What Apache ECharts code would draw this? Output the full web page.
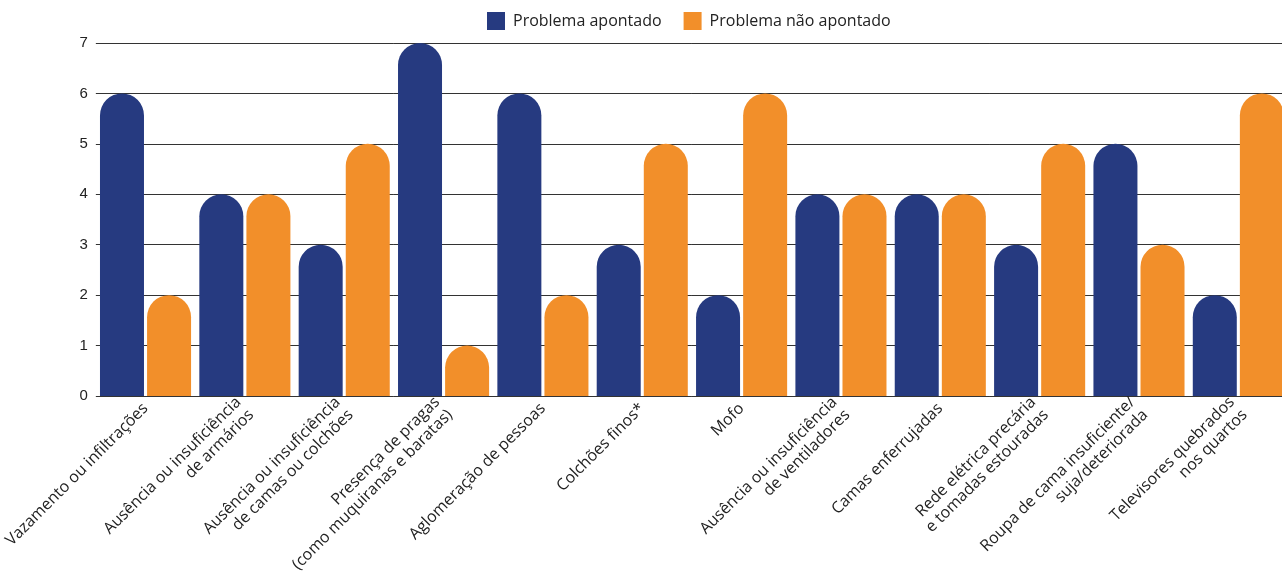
<!DOCTYPE html>
<html>
<head>
<meta charset="utf-8">
<script src="https://cdn.jsdelivr.net/npm/echarts@6/dist/echarts.min.js"></script>
<style>
html,body{margin:0;padding:0;background:#fff;overflow:hidden;}
#chart{width:1292px;height:579px;}
</style>
</head>
<body>
<div id="chart"></div>
<script>
const categories = [
  "Vazamento ou infiltrações",
  "Ausência ou insuficiência\nde armários",
  "Ausência ou insuficiência\nde camas ou colchões",
  "Presença de pragas\n(como muquiranas e baratas)",
  "Aglomeração de pessoas",
  "Colchões finos*",
  "Mofo",
  "Ausência ou insuficiência\nde ventiladores",
  "Camas enferrujadas",
  "Rede elétrica precária\ne tomadas estouradas",
  "Roupa de cama insuficiente/\nsuja/deteriorada",
  "Televisores quebrados\nnos quartos"
];
const apontado = [6, 4, 3, 7, 6, 3, 2, 4, 4, 3, 5, 2];
const naoApontado = [2, 4, 5, 1, 2, 5, 6, 4, 4, 5, 3, 6];
const yTicks = [0, 1, 2, 3, 4, 5, 6, 7];

const chart = echarts.init(document.getElementById('chart'));
const font = '"Open Sans", sans-serif';
chart.setOption({
  animation: false,
  legend: {
    top: 7,
    left: 482,
    itemWidth: 18,
    itemHeight: 18,
    itemGap: 22,
    icon: 'rect',
    textStyle: {fontFamily: font, fontSize: 16, color: '#222', padding: [0, 0, 0, 3]},
    data: ['Problema apontado', 'Problema não apontado']
  },
  grid: {left: 95, width: 1193, top: 43, bottom: 183},
  xAxis: {
    type: 'category',
    data: categories,
    axisLine: {show: false},
    axisTick: {show: false},
    axisLabel: {
      interval: 0,
      rotate: 45,
      margin: 10,
      fontFamily: font,
      fontSize: 16,
      color: '#222',
      lineHeight: 18,
      padding: [0, 0, 0, 0]
    }
  },
  yAxis: {
    type: 'value',
    min: 0,
    max: yTicks[yTicks.length - 1],
    interval: 1,
    axisLine: {show: false},
    axisTick: {show: false},
    axisLabel: {fontFamily: '"Liberation Sans", Arial, sans-serif', fontSize: 15, color: '#222', margin: 8},
    splitLine: {lineStyle: {color: '#333', width: 1}}
  },
  series: [
    {
      name: 'Problema apontado',
      type: 'bar',
      data: apontado,
      barWidth: 44,
      barGap: '7%',
      itemStyle: {color: '#263a80', borderRadius: [22, 22, 0, 0]}
    },
    {
      name: 'Problema não apontado',
      type: 'bar',
      data: naoApontado,
      barWidth: 44,
      barGap: '7%',
      itemStyle: {color: '#f28f2a', borderRadius: [22, 22, 0, 0]}
    }
  ]
});
</script>
</body>
</html>
